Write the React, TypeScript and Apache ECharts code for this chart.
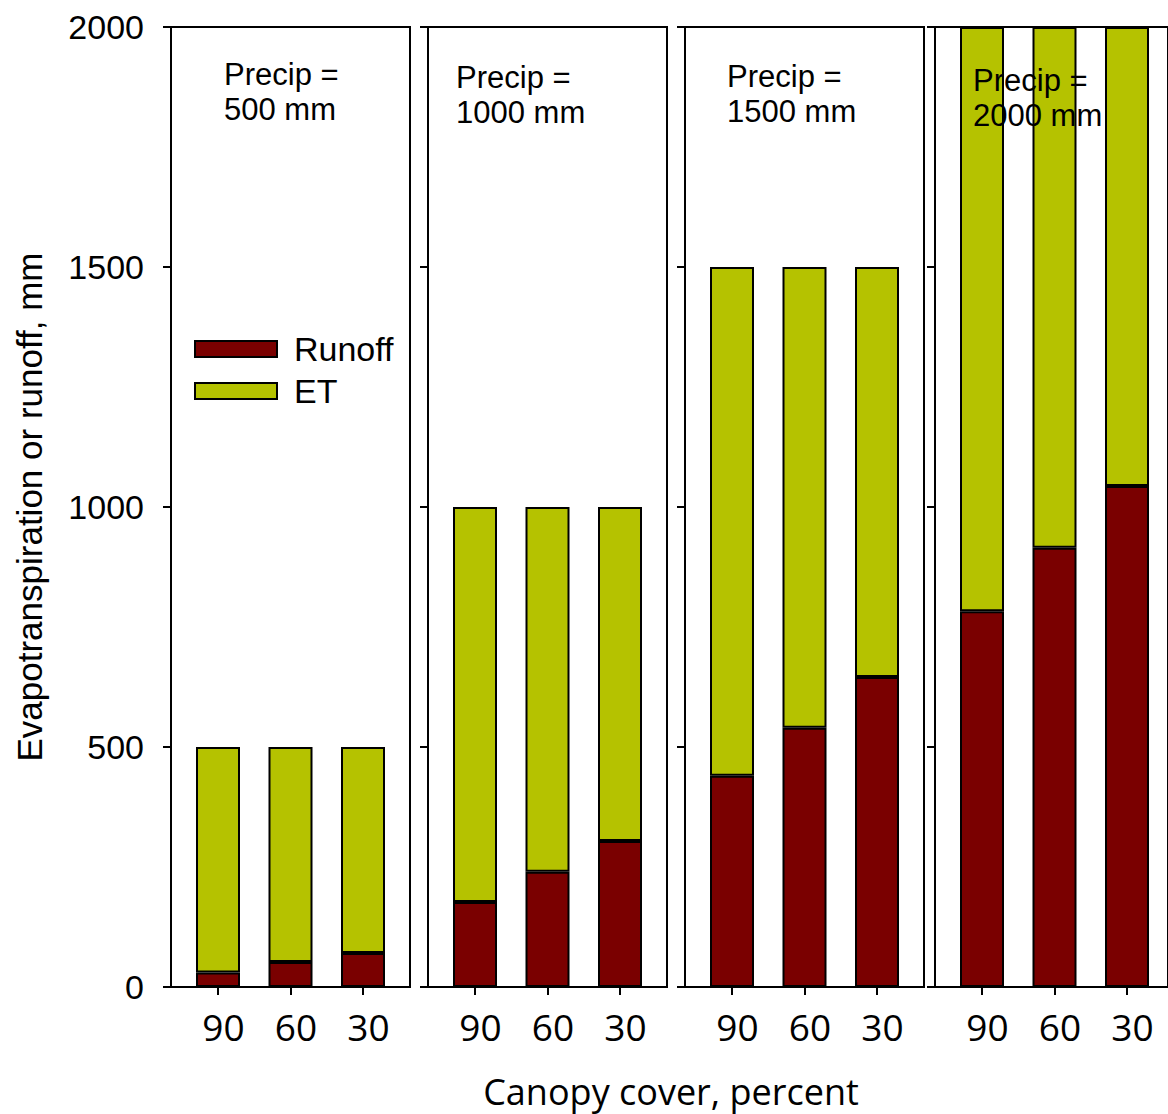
import React, { useEffect, useRef } from "react";
import * as echarts from "echarts";

const canopyCover = ["90", "60", "30"];
const precipitation = [500, 1000, 1500, 2000];
const runoff500 = [30, 52, 71];
const runoff1000 = [177, 240, 304];
const runoff1500 = [440, 540, 646];
const runoff2000 = [783, 915, 1044];
const runoffByPanel = [runoff500, runoff1000, runoff1500, runoff2000];
const yTicks = [0, 500, 1000, 1500, 2000];

const RUNOFF_COLOR = "#7a0000";
const ET_COLOR = "#b5c200";

export default function App() {
  const ref = useRef<HTMLDivElement>(null);

  useEffect(() => {
    if (!ref.current) return;
    const chart = echarts.init(ref.current, undefined, { renderer: "svg" });

    const frameLefts = [171, 428, 685, 935];
    const panelWidth = 239;
    const top = 27;
    const height = 960;
    const band = 72.5;
    const barInset = 47 - band / 2;

    const grids: any[] = [];
    const xAxes: any[] = [];
    const yAxes: any[] = [];
    const series: any[] = [];
    const graphics: any[] = [];

    const arial = "'Liberation Sans', Arial, sans-serif";
    const calib = "'Open Sans', sans-serif";

    // frame grids 0..3
    frameLefts.forEach((left, i) => {
      grids.push({
        left,
        top,
        width: panelWidth,
        height,
        show: true,
        borderColor: "#000",
        borderWidth: 2,
        backgroundColor: "transparent",
        containLabel: false,
      });
      xAxes.push({ type: "value", gridIndex: i, show: false, min: 0, max: 1 });
      yAxes.push({
        type: "value",
        gridIndex: i,
        min: yTicks[0],
        max: yTicks[yTicks.length - 1],
        interval: 500,
        axisLine: { show: false },
        axisTick: { show: true, inside: false, length: 8, lineStyle: { color: "#000", width: 2 } },
        axisLabel: {
          show: i === 0,
          margin: 27,
          color: "#000",
          fontSize: 34,
          fontFamily: arial,
          formatter: (v: number) => String(v),
        },
        splitLine: { show: false },
        name: i === 0 ? "Evapotranspiration or runoff, mm" : "",
        nameLocation: "middle",
        nameGap: 124,
        nameTextStyle: { color: "#000", fontSize: 35, fontFamily: arial },
      });
    });

    // bar grids 4..7
    frameLefts.forEach((left, i) => {
      const gi = 4 + i;
      grids.push({
        left: left + barInset,
        top,
        width: band * 3,
        height,
        show: false,
        containLabel: false,
      });
      xAxes.push({
        type: "category",
        gridIndex: gi,
        data: canopyCover,
        boundaryGap: true,
        axisLine: { show: false },
        axisTick: {
          show: true,
          alignWithLabel: true,
          inside: false,
          length: 8,
          lineStyle: { color: "#000", width: 2 },
        },
        axisLabel: {
          margin: 21,
          color: "#000",
          fontSize: 37,
          fontFamily: calib,
          padding: [0, 0, 0, 11],
        },
      });
      yAxes.push({
        type: "value",
        gridIndex: gi,
        min: 0,
        max: 2000,
        interval: 500,
        show: false,
        splitLine: { show: false },
      });
      const r = runoffByPanel[i];
      const et = r.map((v) => precipitation[i] - v);
      series.push({
        name: "Runoff",
        type: "bar",
        xAxisIndex: gi,
        yAxisIndex: gi,
        stack: "p" + i,
        data: r,
        barWidth: 44,
        itemStyle: { color: RUNOFF_COLOR, borderColor: "#000", borderWidth: 2 },
      });
      series.push({
        name: "ET",
        type: "bar",
        xAxisIndex: gi,
        yAxisIndex: gi,
        stack: "p" + i,
        data: et,
        barWidth: 44,
        itemStyle: { color: ET_COLOR, borderColor: "#000", borderWidth: 2 },
      });
    });

    const annot = [
      [224, 57],
      [456, 60],
      [727, 59],
      [973, 63],
    ];
    precipitation.forEach((p, i) => {
      graphics.push({
        type: "text",
        x: annot[i][0],
        y: annot[i][1],
        z: 100,
        style: {
          text: `Precip =\n${p} mm`,
          fill: "#000",
          fontSize: 31,
          lineHeight: 35,
          fontFamily: arial,
          verticalAlign: "top",
          align: "left",
        },
      });
    });

    graphics.push({
      type: "text",
      x: 671,
      y: 1091,
      z: 100,
      style: {
        text: "Canopy cover, percent",
        fill: "#000",
        fontSize: 36,
        lineHeight: 36,
        fontFamily: calib,
        align: "center",
        verticalAlign: "middle",
      },
    });

    chart.setOption({
      animation: false,
      backgroundColor: "#fff",
      grid: grids,
      xAxis: xAxes,
      yAxis: yAxes,
      series,
      legend: {
        show: true,
        data: ["Runoff", "ET"],
        orient: "vertical",
        left: 194,
        top: 331,
        padding: 0,
        itemWidth: 82,
        itemHeight: 16,
        itemGap: 6,
        icon: "rect",
        selectedMode: false,
        itemStyle: { borderColor: "#000", borderWidth: 2 },
        textStyle: {
          color: "#000",
          fontSize: 34,
          lineHeight: 36,
          fontFamily: arial,
          padding: [0, 0, 0, 12],
        },
      },
      graphic: graphics,
    });

    return () => chart.dispose();
  }, []);

  return (
    <div
      ref={ref}
      style={{ position: "absolute", left: 0, top: 0, width: 1168, height: 1114 }}
    />
  );
}
